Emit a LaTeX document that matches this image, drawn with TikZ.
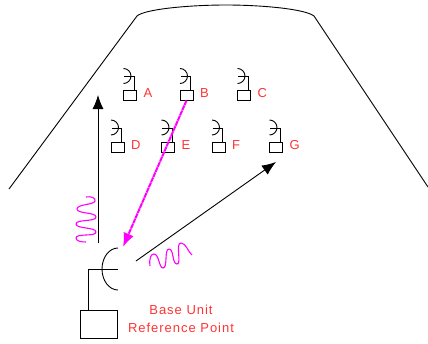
\documentclass[tikz,border=0pt]{standalone}
\usepackage{fontspec}
\newfontfamily\labelfont[LetterSpace=7.5]{Liberation Sans}
\usetikzlibrary{arrows.meta,positioning}
\definecolor{labelred}{RGB}{255,51,51}
\definecolor{wavemagenta}{RGB}{255,0,255}

\begin{document}
\begin{tikzpicture}[x=1pt,y=-1pt,line width=0.9pt,>={Latex[length=14pt,width=11pt]}]
\tikzstyle{every node}=[inner sep=0pt,outer sep=0pt]
\tikzstyle{unit}=[draw,minimum width=13pt,minimum height=10pt]
\tikzstyle{tag}=[text=labelred,font=\labelfont\fontsize{13}{17.5}\selectfont]
\tikzstyle{signal}=[->,draw=black]
\tikzstyle{wave}=[draw=wavemagenta,line width=1.1pt]
\useasboundingbox (0,0) rectangle (428,343);

% room outline
\draw (9,189) -- (137,16) .. controls (145,9) and (190,5) .. (226,5)
      .. controls (262,5) and (305,9) .. (314,16) -- (428,187);

% remote units
\foreach \name/\px/\py in {A/130/95.5,B/186.5/95.5,C/244/95.5,D/117.5/147,E/168/147,F/218.5/147,G/276/147}{
  \node[unit] (\name) at (\px,\py) {};
  \node[tag,right=7pt of \name,yshift=2pt] (\name label) {\name};
  \draw ([xshift=4pt]\name.north) -- ++(0,-14) -- ++(-10,0);
  \draw ([shift={(-6.5,-22)}]\name.north) arc[start angle=90,end angle=-90,radius=7.5pt];
}

% base unit
\node[draw,minimum width=37pt,minimum height=28pt] (base) at (98.5,324) {};
\coordinate (dish) at (118,269);
\draw (base.north -| 88,0) |- (dish);
\draw (118,248) arc[start angle=90,end angle=270,x radius=16pt,y radius=21pt];
\node[tag,align=center] (baselabel) at (181,319) {Base Unit\\Reference Point};

% signals
\coordinate (up) at (98,243);
\coordinate (upend) at (98,95);
\coordinate (out) at (136,261);
\coordinate (outend) at (276,162);
\coordinate (back) at (123,247);
\draw[signal] (up) -- (upend);
\draw[signal] (out) -- (outend);
\draw[->,draw=wavemagenta,fill=wavemagenta,line width=2pt,dash pattern=on 5pt off 0.6pt] (B.south) -- (back);

% waves
\draw[wave] (86,197) .. controls (91,196) and (96,198) .. (95,201)
  .. controls (94,205) and (77,204) .. (77,209) .. controls (77,214) and (96,212) .. (96,217)
  .. controls (96,222) and (76,219) .. (76,224) .. controls (76,229) and (96,227) .. (96,232)
  .. controls (96,237) and (76,233) .. (76,238) .. controls (76,241) and (81,242) .. (86,242);
\draw[wave] (150,266) .. controls (149,258) and (151,254) .. (154,254)
  .. controls (159,254) and (159,268) .. (163,268) .. controls (168,268) and (164,249) .. (169,249)
  .. controls (174,249) and (172,264) .. (177,264) .. controls (182,264) and (175,243) .. (181,243)
  .. controls (186,243) and (188,252) .. (192,255);
\end{tikzpicture}
\end{document}
